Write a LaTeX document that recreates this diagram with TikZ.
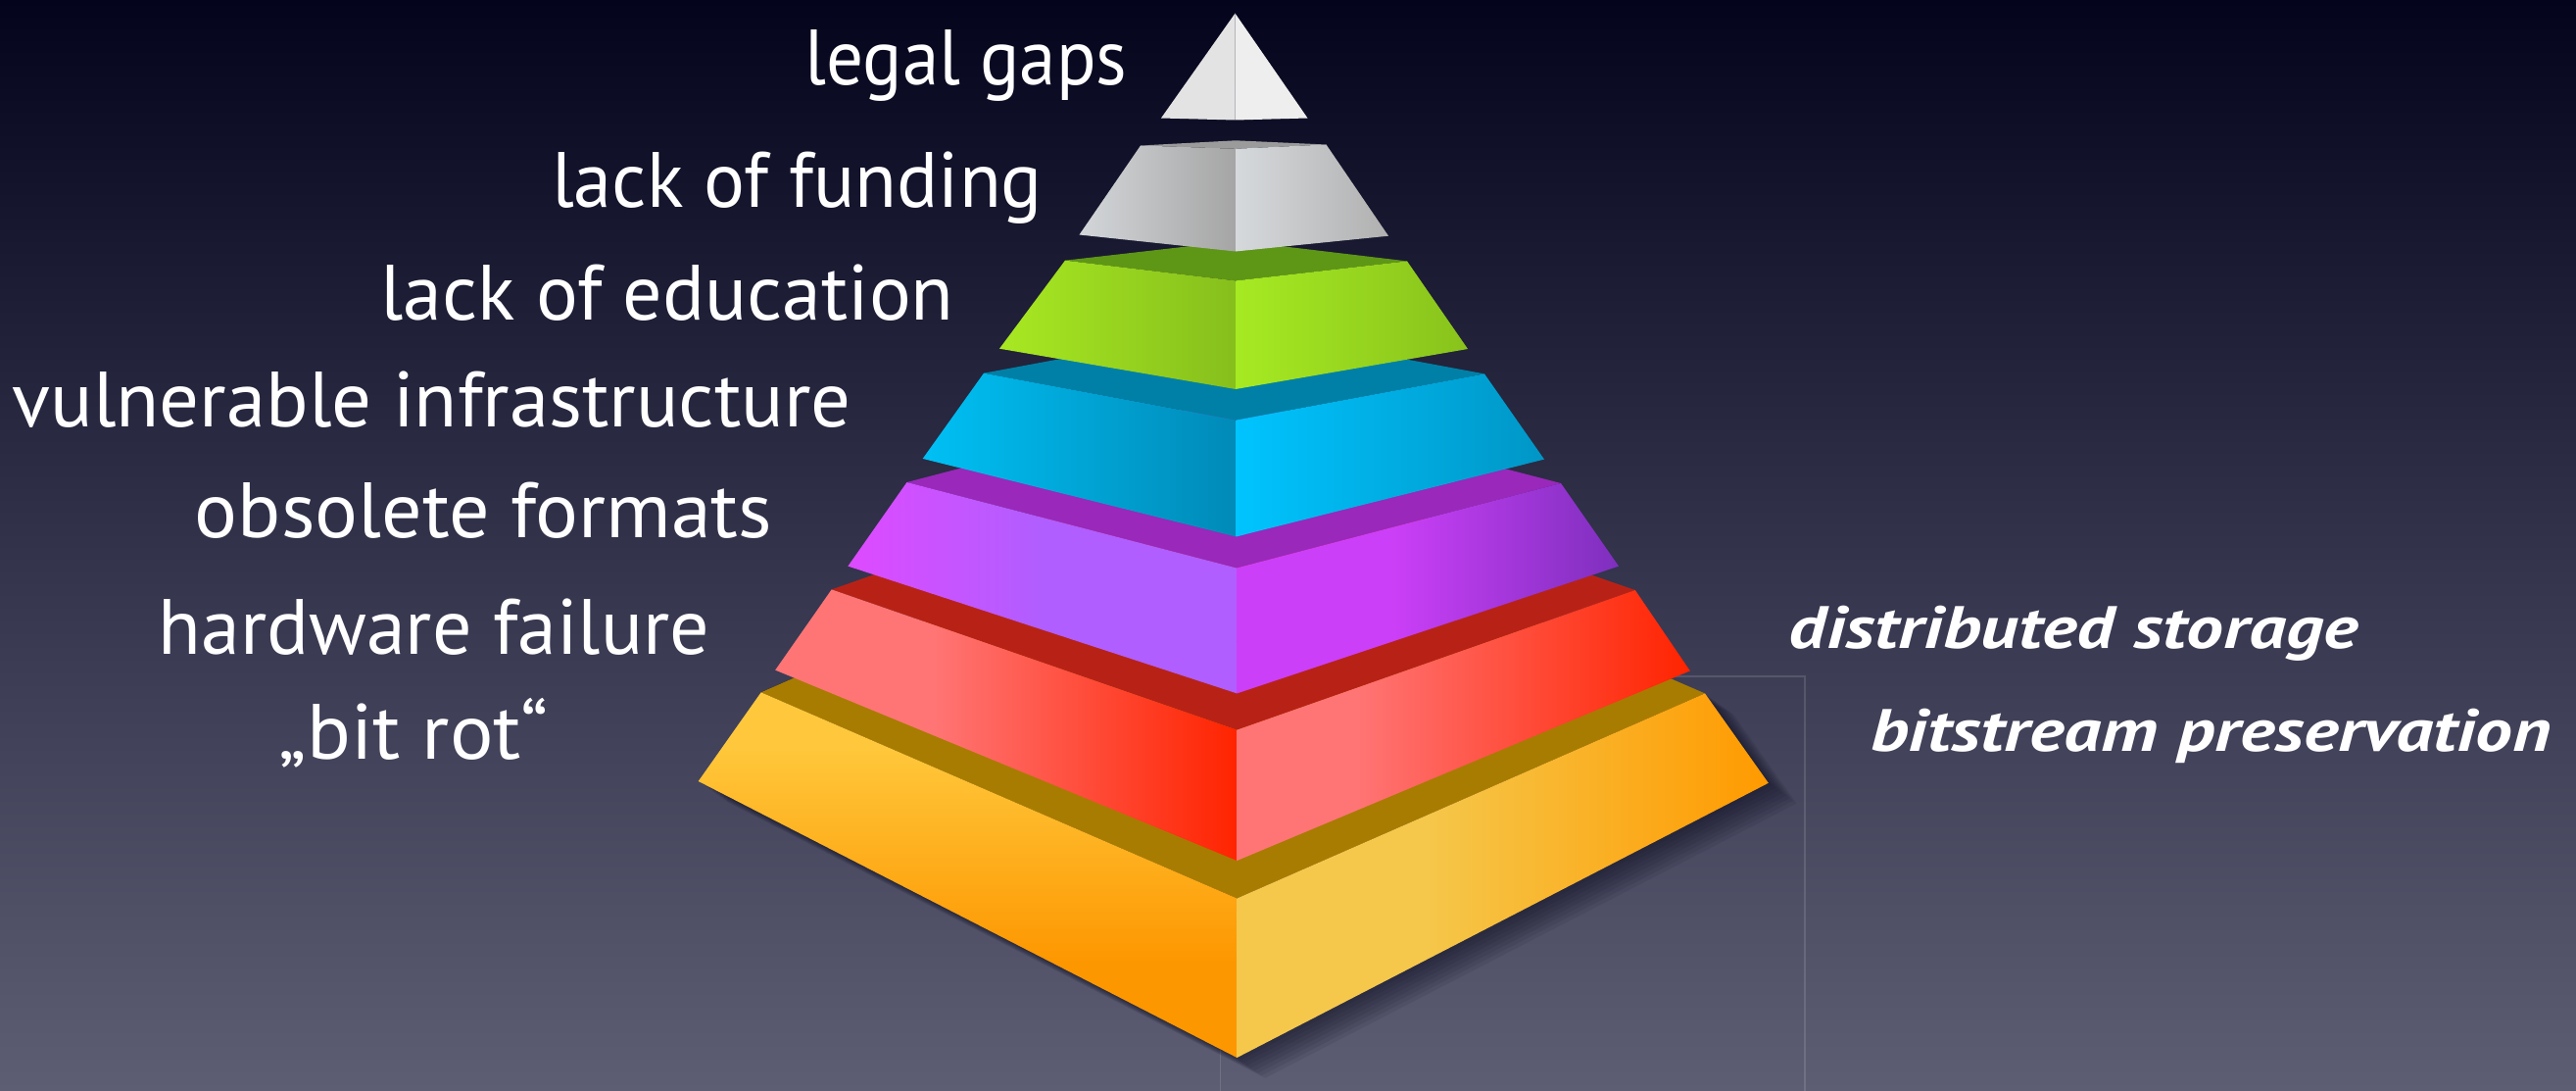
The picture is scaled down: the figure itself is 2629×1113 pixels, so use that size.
\documentclass[tikz,border=0pt]{standalone}
\usepackage{fontspec}
\setmainfont{PT Sans}
\newfontfamily\lblfont{PT Sans}
\newfontfamily\rgtfont[FakeStretch=1.24]{PT Sans}
\definecolor{bgT}{HTML}{04041C}
\definecolor{bgM}{HTML}{36364F}
\definecolor{bgB}{HTML}{5D5D73}
\definecolor{whL}{HTML}{E3E3E3}
\definecolor{whR}{HTML}{EEEEEE}
\definecolor{gyTop}{HTML}{9B9B9B}
\definecolor{gyLa}{HTML}{D3D6D9}
\definecolor{gyLb}{HTML}{A5A5A5}
\definecolor{gyRa}{HTML}{D6D9DC}
\definecolor{gyRb}{HTML}{B0B0B0}
\definecolor{grTop}{HTML}{5E9616}
\definecolor{grLa}{HTML}{A8E822}
\definecolor{grLb}{HTML}{86BF1C}
\definecolor{grRa}{HTML}{A6EA22}
\definecolor{grRb}{HTML}{88C21C}
\definecolor{blTop}{HTML}{0080A6}
\definecolor{blLa}{HTML}{00C0F4}
\definecolor{blLb}{HTML}{008AB8}
\definecolor{blRa}{HTML}{00C4FF}
\definecolor{blRb}{HTML}{0096C6}
\definecolor{puTop}{HTML}{9A28BA}
\definecolor{puLa}{HTML}{DE4AFF}
\definecolor{puLb}{HTML}{B05EFF}
\definecolor{puRa}{HTML}{CC3FF8}
\definecolor{puRb}{HTML}{7E2FBE}
\definecolor{rdTop}{HTML}{B82216}
\definecolor{rdSal}{HTML}{FF7575}
\definecolor{rdHot}{HTML}{FF2400}
\definecolor{orTop}{HTML}{A87C00}
\definecolor{orY}{HTML}{FFC83C}
\definecolor{orB}{HTML}{FD9700}
\definecolor{orRa}{HTML}{F5C84C}
\definecolor{orRb}{HTML}{FF9A00}
\definecolor{shd}{HTML}{0C0C20}
\pgfdeclareverticalshading{bgshade}{100bp}{color(0bp)=(bgB); color(25bp)=(bgB); color(48bp)=(bgM); color(75bp)=(bgT); color(100bp)=(bgT)}
\pgfdeclarehorizontalshading{gyL}{100bp}{color(0bp)=(gyLa); color(25bp)=(gyLa); color(75bp)=(gyLb); color(100bp)=(gyLb)}
\pgfdeclarehorizontalshading{gyR}{100bp}{color(0bp)=(gyRa); color(25bp)=(gyRa); color(75bp)=(gyRb); color(100bp)=(gyRb)}
\pgfdeclarehorizontalshading{grL}{100bp}{color(0bp)=(grLa); color(25bp)=(grLa); color(75bp)=(grLb); color(100bp)=(grLb)}
\pgfdeclarehorizontalshading{grR}{100bp}{color(0bp)=(grRa); color(25bp)=(grRa); color(75bp)=(grRb); color(100bp)=(grRb)}
\pgfdeclarehorizontalshading{blL}{100bp}{color(0bp)=(blLa); color(25bp)=(blLa); color(75bp)=(blLb); color(100bp)=(blLb)}
\pgfdeclarehorizontalshading{blR}{100bp}{color(0bp)=(blRa); color(25bp)=(blRa); color(75bp)=(blRb); color(100bp)=(blRb)}
\pgfdeclarehorizontalshading{puL}{100bp}{color(0bp)=(puLa); color(25bp)=(puLa); color(50bp)=(puLb); color(75bp)=(puLb); color(100bp)=(puLb)}
\pgfdeclarehorizontalshading{puR}{100bp}{color(0bp)=(puRa); color(25bp)=(puRa); color(45bp)=(puRa); color(75bp)=(puRb); color(100bp)=(puRb)}
\pgfdeclarehorizontalshading{rdL}{100bp}{color(0bp)=(rdSal); color(25bp)=(rdSal); color(42bp)=(rdSal); color(75bp)=(rdHot); color(100bp)=(rdHot)}
\pgfdeclarehorizontalshading{rdR}{100bp}{color(0bp)=(rdSal); color(25bp)=(rdSal); color(38bp)=(rdSal); color(75bp)=(rdHot); color(100bp)=(rdHot)}
\pgfdeclareverticalshading{orL}{100bp}{color(0bp)=(orB); color(25bp)=(orB); color(38bp)=(orB); color(68bp)=(orY); color(100bp)=(orY)}
\pgfdeclarehorizontalshading{orR}{100bp}{color(0bp)=(orRa); color(25bp)=(orRa); color(42bp)=(orRa); color(75bp)=(orRb); color(100bp)=(orRb)}
\begin{document}
\begin{tikzpicture}[x=1pt,y=-1pt,
  lbl/.style={text=white, inner sep=0pt, anchor=base, font=\lblfont\fontsize{80}{90}\selectfont},
  rlbl/.style={text=white, inner sep=0pt, anchor=base, font=\rgtfont\bfseries\itshape\fontsize{61}{70}\selectfont},
  face/.style={line join=round}]
\useasboundingbox (0,0) rectangle (2629,1113);
\shade[shading=bgshade] (0,0) rectangle (2629,1113);
% faint frame
\draw[white, opacity=0.13, line width=1.5pt] (1245.7,690) -- (1842,690) -- (1842,1120);
\draw[white, opacity=0.13, line width=1.5pt] (1245.7,690) -- (1245.7,1120);
% coordinates
\coordinate (oTL) at (776.7,706.3); \coordinate (oTR) at (1740,707.4); \coordinate (oTF) at (1262.4,916.5); \coordinate (oTB) at (1254.3,497.2);
\coordinate (oBL) at (712.7,797); \coordinate (oBF) at (1262.4,1079); \coordinate (oBR) at (1804.8,798.8);
\coordinate (rTL) at (848.7,601.4); \coordinate (rTR) at (1668.8,602); \coordinate (rTF) at (1262.4,744.7); \coordinate (rTB) at (1255,458.7);
\coordinate (rBL) at (791.2,683.6); \coordinate (rBF) at (1262.4,878); \coordinate (rBR) at (1724.8,684.4);
\coordinate (pTL) at (925.5,492); \coordinate (pTR) at (1593,493); \coordinate (pTF) at (1262,579.5); \coordinate (pTB) at (1256.5,405.5);
\coordinate (pBL) at (865.4,577.6); \coordinate (pBF) at (1262.4,707.4); \coordinate (pBR) at (1652,577.6);
\coordinate (bTL) at (1004,380.7); \coordinate (bTR) at (1515,381.4); \coordinate (bTF) at (1261.5,428.6); \coordinate (bTB) at (1257.5,333.5);
\coordinate (bBL) at (941.7,467.9); \coordinate (bBF) at (1261.5,547.5); \coordinate (bBR) at (1576,468.6);
\coordinate (gTL) at (1087,265.7); \coordinate (gTR) at (1436,266.4); \coordinate (gTF) at (1261,286.4); \coordinate (gTB) at (1262,245.7);
\coordinate (gBL) at (1020,355.7); \coordinate (gBF) at (1261,397); \coordinate (gBR) at (1498,356);
\coordinate (yTL) at (1164,148.5); \coordinate (yTR) at (1353.5,147.5); \coordinate (yTF) at (1261,151.8); \coordinate (yTB) at (1261,143.3);
\coordinate (yBL) at (1101.5,239.5); \coordinate (yBF) at (1261,256.5); \coordinate (yBR) at (1417,240.7);
\coordinate (wA) at (1260.5,13.6); \coordinate (wL) at (1185,120.5); \coordinate (wF) at (1260.5,122.5); \coordinate (wR) at (1334.5,120.5);
% drop shadow of the base layer
\foreach \s in {1,...,8}{
  \fill[shd, opacity=0.085] ([shift={(3.6*\s,2.6*\s)}]oTR) -- ([shift={(3.6*\s,2.6*\s)}]oBR) -- ([shift={(3.6*\s,2.6*\s)}]oBF) -- ([shift={(3.6*\s,2.6*\s)}]oBL) -- (oTL) -- (oTB) -- cycle;
}
% orange layer
\fill[orTop] (oTL) -- (oTB) -- (oTR) -- (oTF) -- cycle;
\shade[shading=orL, face] (oTL) -- (oTF) -- (oBF) -- (oBL) -- cycle;
\shade[shading=orR, face] (oTF) -- (oTR) -- (oBR) -- (oBF) -- cycle;
% red layer
\fill[rdTop] (rTL) -- (rTB) -- (rTR) -- (rTF) -- cycle;
\shade[shading=rdL, face] (rTL) -- (rTF) -- (rBF) -- (rBL) -- cycle;
\shade[shading=rdR, face] (rTF) -- (rTR) -- (rBR) -- (rBF) -- cycle;
% purple layer
\fill[puTop] (pTL) -- (pTB) -- (pTR) -- (pTF) -- cycle;
\shade[shading=puL, face] (pTL) -- (pTF) -- (pBF) -- (pBL) -- cycle;
\shade[shading=puR, face] (pTF) -- (pTR) -- (pBR) -- (pBF) -- cycle;
% blue layer
\fill[blTop] (bTL) -- (bTB) -- (bTR) -- (bTF) -- cycle;
\shade[shading=blL, face] (bTL) -- (bTF) -- (bBF) -- (bBL) -- cycle;
\shade[shading=blR, face] (bTF) -- (bTR) -- (bBR) -- (bBF) -- cycle;
% green layer
\fill[grTop] (gTL) -- (gTB) -- (gTR) -- (gTF) -- cycle;
\shade[shading=grL, face] (gTL) -- (gTF) -- (gBF) -- (gBL) -- cycle;
\shade[shading=grR, face] (gTF) -- (gTR) -- (gBR) -- (gBF) -- cycle;
% gray layer
\fill[gyTop] (yTL) -- (yTB) -- (yTR) -- (yTF) -- cycle;
\shade[shading=gyL, face] (yTL) -- (yTF) -- (yBF) -- (yBL) -- cycle;
\shade[shading=gyR, face] (yTF) -- (yTR) -- (yBR) -- (yBF) -- cycle;
% white top
\fill[whL] (wA) -- (wL) -- (wF) -- cycle;
\fill[whR] (wA) -- (wF) -- (wR) -- cycle;
% labels
\node[lbl] (t1) at (986,87) {\scalebox{0.94}[1]{legal gaps}};
\node[lbl] (t2) at (813.5,211) {\scalebox{0.98}[1]{lack of funding}};
\node[lbl] (t3) at (681,326) {lack of education};
\node[lbl] (t4) at (440.7,435) {\scalebox{1.01}[1]{vulnerable infrastructure}};
\node[lbl] (t5) at (493.5,548) {\scalebox{1.025}[1]{obsolete formats}};
\node[lbl] (t6) at (442.8,667) {hardware failure};
\node[lbl] (t7) at (422.5,774) {\scalebox{1.04}[1]{„bit rot“}};
\node[rlbl] (r1) at (2116.2,661) {distributed storage};
\node[rlbl] (r2) at (2256.5,766.7) {bitstream preservation};
\end{tikzpicture}
\end{document}
